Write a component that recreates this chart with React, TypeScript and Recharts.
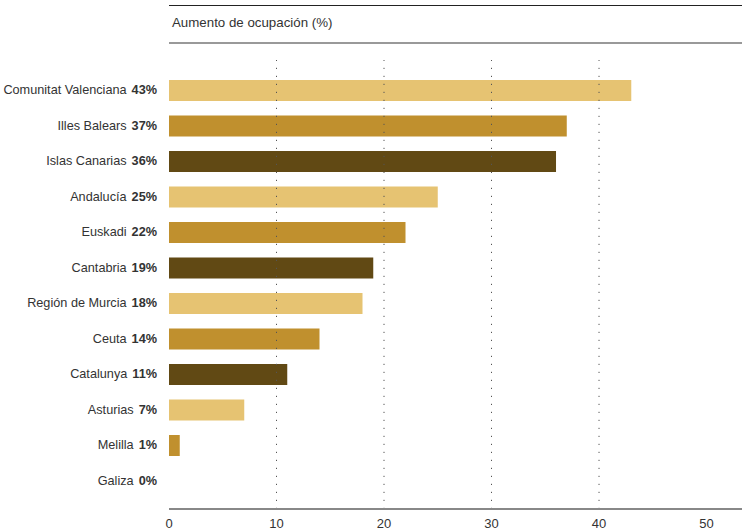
import React from "react";
import { BarChart, Bar, XAxis, YAxis, Cell, ReferenceLine } from "recharts";

const regions = [
  "Comunitat Valenciana",
  "Illes Balears",
  "Islas Canarias",
  "Andalucía",
  "Euskadi",
  "Cantabria",
  "Región de Murcia",
  "Ceuta",
  "Catalunya",
  "Asturias",
  "Melilla",
  "Galiza",
];
const increase = [43, 37, 36, 25, 22, 19, 18, 14, 11, 7, 1, 0];
const palette = ["#E6C372", "#C0902E", "#614914"];
const xTicks = [0, 10, 20, 30, 40, 50];
const gridValues = [10, 20, 30, 40];
const title = "Aumento de ocupación (%)";

const data = regions.map((name, i) => ({ name, value: increase[i] }));
const FONT = "'Liberation Sans', Arial, Helvetica, sans-serif";

const YTick = (props: any) => {
  const { x, y, payload } = props;
  const d = data.find((e) => e.name === payload.value);
  return (
    <text x={x - 4} y={y - 1} dy={4.5} textAnchor="end" fontFamily={FONT} fontSize={12.7} fill="#333">
      <tspan>{payload.value}</tspan>
      <tspan fontWeight="bold" dx={5}>{(d ? d.value : 0) + "%"}</tspan>
    </text>
  );
};

const XTick = (props: any) => {
  const { x, y, payload } = props;
  return (
    <text x={x} y={y} dy={9} textAnchor="middle" fontFamily={FONT} fontSize={13} fill="#333">
      {payload.value}
    </text>
  );
};

const DotLine = (props: any) => {
  const { x1, y1, x2, y2 } = props;
  return <line x1={x1} x2={x2} y1={y1} y2={y2 - 10} stroke="#555" strokeWidth={1} strokeDasharray="1.2 6.8" />;
};

export default function App() {
  return (
    <div style={{ position: "absolute", left: 0, top: 0, width: 742, height: 531, background: "#fff", fontFamily: FONT }}>
      <div style={{ position: "absolute", left: 169, top: 5, width: 573, height: 0, borderTop: "1.5px solid #222" }} />
      <div style={{ position: "absolute", left: 172, top: 15, fontSize: 13.3, color: "#333", lineHeight: "16px" }}>{title}</div>
      <div style={{ position: "absolute", left: 169, top: 42, width: 573, height: 0, borderTop: "2px solid #999" }} />
      <BarChart
        width={742}
        height={531}
        data={data}
        layout="vertical"
        margin={{ top: 70, right: 0, bottom: 0, left: 0 }}
        barCategoryGap={0}
      >
        <XAxis
          type="number"
          domain={[0, 53.3]}
          ticks={xTicks}
          allowDataOverflow
          tickLine={false}
          axisLine={{ stroke: "#888", strokeWidth: 2 }}
          tick={<XTick />}
          tickSize={8}
          height={22}
        />
        <YAxis
          type="category"
          dataKey="name"
          width={169}
          axisLine={false}
          tickLine={false}
          tick={<YTick />}
          interval={0}
          padding={{ top: 3, bottom: 10 }}
        />
        {gridValues.map((v) => (
          <ReferenceLine key={v} x={v} shape={<DotLine />} />
        ))}
        <Bar dataKey="value" barSize={21} isAnimationActive={false}>
          {data.map((d, i) => (
            <Cell key={d.name} fill={palette[i % 3]} />
          ))}
        </Bar>
      </BarChart>
    </div>
  );
}
